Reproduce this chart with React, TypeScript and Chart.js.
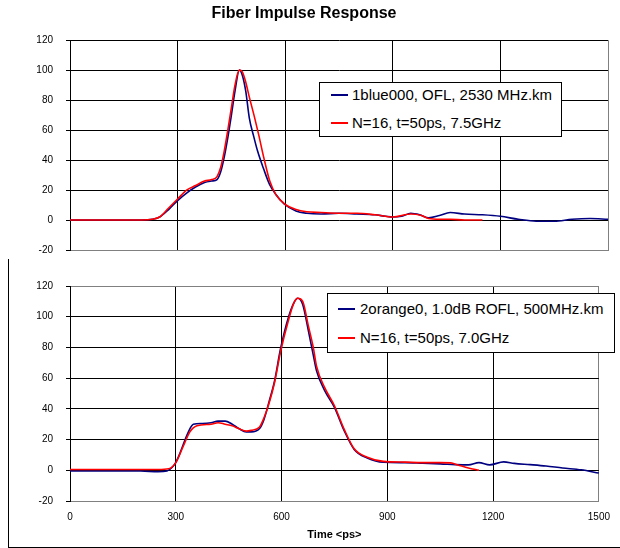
import React, { useEffect, useRef } from "react";
import { Chart, registerables } from "chart.js";
Chart.register(...registerables);

// ---- data (time in ps, response in %) ----
const xTicks = [0, 300, 600, 900, 1200, 1500];
const yTicks = [-20, 0, 20, 40, 60, 80, 100, 120];

const topBlueT = [0,100,200,230,250,275,300,325,350,375,395,410,420,430,440,450,460,472,480,490,500,512,523,540,556,574,597,630,660,700,750,800,850,880,900,925,950,975,1000,1030,1060,1100,1150,1200,1250,1300,1350,1400,1450,1500];
const topBlueV = [0,0,0,0.5,2,7,13,18,22,25,26,27,32,42,55,70,86,100,97,86,68,56,46,34,24,17,10.7,6,4.5,4,4.5,4,3.5,2.5,2,2.5,4.5,3.5,1.5,3,5,4,3.5,2.5,0.5,-0.8,-0.8,0.5,1,0.5];

const topRedT = [0,100,200,230,250,275,300,325,350,375,395,410,420,430,440,450,460,472,480,490,500,514,526,540,557,574,600,630,660,700,750,800,850,900,950,980,1000,1030,1060,1100,1150];
const topRedV = [0,0,0,0.5,2,8,14,20,23,26,27,29,35,46,60,75,90,100,99,92,82,69,57,42,26,17,10.5,7,5.5,5,4.5,4.5,3.5,2,4,3,1,0.5,0.5,0,0];

const botBlueT = [0,100,200,250,275,290,300,310,320,330,340,350,375,400,420,440,460,480,500,514,537,550,565,580,597,620,635,646,660,676,690,699,722,750,778,806,843,889,950,1000,1050,1093,1130,1160,1190,1230,1260,1305,1350,1397,1450,1500];
const botBlueV = [-0.5,-0.5,-0.5,-1,-0.5,2,5,10,16,22,27,30,30.5,31,32,32,30,27,25,25,27,33,45,58,79,100,109,112,108,91,75,65,52,41,25.6,13.6,8,5.2,5,4.6,4.2,3.7,3.5,5,3.5,5.5,4.5,3.7,2.8,1.5,0.3,-1.8];

const botRedT = [0,100,200,250,280,300,320,340,360,400,420,440,460,480,500,514,537,550,565,580,597,620,635,646,660,676,690,699,722,750,778,806,843,889,950,1000,1050,1080,1100,1130,1160];
const botRedV = [0.5,0.5,0.5,0.5,1,5,15,25,29,30,31,30,29,27,25.5,26,28,34,44,57,77,98,109,112,110,94,80,68,54,42,26.5,14,8.5,5.8,5.3,5,5,4.8,3.5,1.5,0];

const topLabels = ["1blue000, OFL, 2530 MHz.km", "N=16, t=50ps, 7.5GHz"];
const botLabels = ["2orange0, 1.0dB ROFL, 500MHz.km", "N=16, t=50ps, 7.0GHz"];
const chartTitle = "Fiber Impulse Response";
const xTitle = "Time <ps>";

const BLUE = "#000080";
const RED = "#ff0000";
const GREY = "#808080";
const FONT = "'Liberation Sans', Arial, sans-serif";

const pts = (t: number[], v: number[]) => t.map((x, i) => ({ x, y: v[i] }));

function makeConfig(isTop: boolean): any {
  const blue = isTop ? pts(topBlueT, topBlueV) : pts(botBlueT, botBlueV);
  const red = isTop ? pts(topRedT, topRedV) : pts(botRedT, botRedV);
  const lineDs = (label: string, data: any[], color: string, order: number) => ({
    label,
    data,
    borderColor: color,
    backgroundColor: color,
    borderWidth: 1.6,
    pointRadius: 0,
    cubicInterpolationMode: "monotone",
    fill: false,
    order,
  });
  const labels = isTop ? topLabels : botLabels;
  return {
    type: "line",
    data: {
      datasets: [
        lineDs(labels[0], blue, BLUE, 1),
        lineDs(labels[1], red, RED, 0),
      ],
    },
    options: {
      animation: false,
      responsive: false,
      maintainAspectRatio: false,
      events: [],
      layout: {
        padding: isTop
          ? { left: 0, right: 12, top: 0, bottom: 0 }
          : { left: 0, right: 9, top: 26, bottom: 0 },
      },
      plugins: {
        legend: { display: false },
        tooltip: { enabled: false },
        title: {
          display: isTop,
          text: chartTitle,
          color: "#000",
          font: { family: FONT, size: 16, weight: "bold" },
          padding: { top: 4, bottom: 17 },
        },
      },
      scales: {
        x: {
          type: "linear",
          min: 0,
          max: 1500,
          afterBuildTicks: (s: any) => {
            s.ticks = xTicks.map((value) => ({ value }));
          },
          afterFit: (s: any) => {
            s.height = isTop ? 0 : 47;
          },
          ticks: {
            display: !isTop,
            color: "#000",
            font: { family: FONT, size: 10 },
            padding: 10,
            maxRotation: 0,
            autoSkip: false,
            callback: (v: any) => String(v),
          },
          grid: {
            drawTicks: false,
            lineWidth: 1,
            color: (ctx: any) => (ctx.tick && ctx.tick.value === 1500 ? GREY : "#000"),
          },
          border: { display: true, color: GREY, width: 1 },
          title: {
            display: !isTop,
            text: xTitle,
            color: "#000",
            font: { family: FONT, size: 11, weight: "bold" },
            padding: { top: 0, bottom: 6 },
          },
        },
        y: {
          type: "linear",
          min: -20,
          max: 120,
          afterBuildTicks: (s: any) => {
            s.ticks = yTicks.map((value) => ({ value }));
          },
          afterFit: (s: any) => {
            s.width = 70;
          },
          ticks: {
            color: "#000",
            font: { family: FONT, size: 10 },
            padding: 13,
            callback: (v: any) => String(v),
          },
          grid: {
            drawTicks: true,
            tickLength: 4,
            lineWidth: 1,
            color: (ctx: any) => {
              const v = ctx.tick ? ctx.tick.value : 0;
              if (v === -20) return GREY;
              if (v === 120 && !isTop) return GREY;
              return "#000";
            },
            tickColor: "#000",
          },
          border: { display: true, color: "#000", width: 1 },
        },
      },
    },
  };
}

function Legend(props: { left: number; top: number; width: number; height: number; labels: string[]; rows: number[]; lineX: number; textX: number }) {
  const { left, top, width, height, labels, rows, lineX, textX } = props;
  const colors = [BLUE, RED];
  return (
    <div
      style={{
        position: "absolute",
        left,
        top,
        width,
        height,
        boxSizing: "border-box",
        border: "1px solid #000",
        background: "#fff",
      }}
    >
      {labels.map((lab, i) => (
        <React.Fragment key={i}>
          <div
            style={{
              position: "absolute",
              left: lineX - left - 1,
              top: rows[i] - top - 2,
              width: 17,
              height: 2,
              background: colors[i],
            }}
          />
          <div
            style={{
              position: "absolute",
              left: textX - left - 1,
              top: rows[i] - top - 10,
              height: 18,
              lineHeight: "18px",
              fontFamily: FONT,
              fontSize: 15,
              color: "#000",
              whiteSpace: "nowrap",
            }}
          >
            {lab}
          </div>
        </React.Fragment>
      ))}
    </div>
  );
}

export default function App() {
  const topRef = useRef<HTMLCanvasElement>(null);
  const botRef = useRef<HTMLCanvasElement>(null);

  useEffect(() => {
    const c1 = new Chart(topRef.current as HTMLCanvasElement, makeConfig(true));
    const c2 = new Chart(botRef.current as HTMLCanvasElement, makeConfig(false));
    return () => {
      c1.destroy();
      c2.destroy();
    };
  }, []);

  return (
    <div style={{ position: "absolute", left: 0, top: 0, width: 620, height: 548, background: "#fff", overflow: "hidden" }}>
      <canvas ref={topRef} width={620} height={269} style={{ position: "absolute", left: 0, top: 0, width: 620, height: 269 }} />
      <canvas ref={botRef} width={620} height={288} style={{ position: "absolute", left: 0, top: 260, width: 620, height: 288 }} />
      <div
        style={{
          position: "absolute",
          left: 8,
          top: 259,
          width: 620,
          height: 289,
          boxSizing: "border-box",
          borderLeft: "1px solid #000",
          borderBottom: "1px solid #000",
          pointerEvents: "none",
        }}
      />
      <Legend left={319} top={82} width={243} height={55} labels={topLabels} rows={[95, 123]} lineX={331} textX={352} />
      <Legend left={327} top={293} width={288} height={60} labels={botLabels} rows={[309, 338]} lineX={338} textX={360} />
    </div>
  );
}
